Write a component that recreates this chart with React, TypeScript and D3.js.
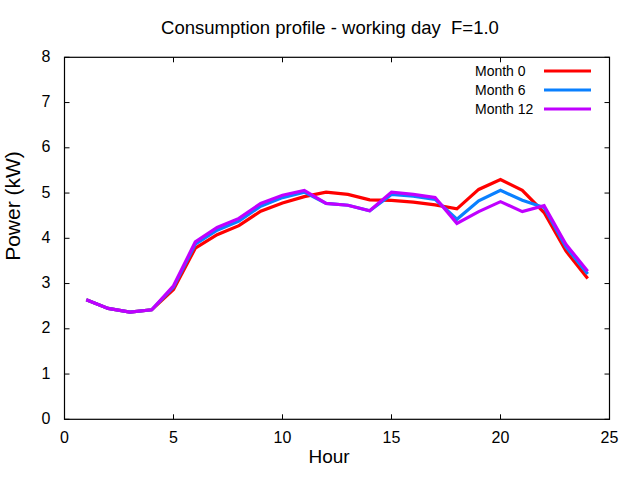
import * as d3 from 'd3';
import React, { useEffect } from 'react';

// hourly consumption profile
const hours = [1, 2, 3, 4, 5, 6, 7, 8, 9, 10, 11, 12, 13, 14, 15, 16, 17, 18, 19, 20, 21, 22, 23, 24];
const month0 = [2.64, 2.45, 2.37, 2.42, 2.87, 3.78, 4.08, 4.28, 4.6, 4.78, 4.92, 5.02, 4.97, 4.85, 4.84, 4.8, 4.74, 4.65, 5.08, 5.3, 5.06, 4.57, 3.72, 3.11];
const month6 = [2.64, 2.45, 2.37, 2.42, 2.92, 3.87, 4.18, 4.38, 4.71, 4.9, 5.02, 4.77, 4.73, 4.61, 4.97, 4.93, 4.86, 4.42, 4.83, 5.06, 4.84, 4.68, 3.81, 3.21];
const month12 = [2.64, 2.45, 2.37, 2.42, 2.95, 3.92, 4.24, 4.44, 4.77, 4.95, 5.06, 4.77, 4.73, 4.61, 5.02, 4.97, 4.9, 4.33, 4.59, 4.81, 4.59, 4.72, 3.87, 3.27];
const seriesNames = ['Month 0', 'Month 6', 'Month 12'];
const seriesColors = ['#ff0000', '#0a80ff', '#c000ff'];
const xTicks = [0, 5, 10, 15, 20, 25];
const yTicks = [0, 1, 2, 3, 4, 5, 6, 7, 8];

export default function App() {
  const ref = React.useRef<SVGSVGElement>(null);

  useEffect(() => {
    if (!ref.current) return;
    const svg = d3.select(ref.current);
    svg.selectAll('*').remove();

    const font = '"Liberation Sans", Arial, sans-serif';
    const left = 64.5, right = 609.5, top = 57.3, bottom = 419.3;

    const x = d3.scaleLinear().domain([0, 25]).range([left, right]);
    const y = d3.scaleLinear().domain([0, 8]).range([bottom, top]);

    svg.append('rect').attr('width', 640).attr('height', 480).attr('fill', '#fff');

    // gnuplot style mirrored inward ticks
    const tl = 5;
    const ticks = svg.append('g').attr('stroke', '#000').attr('stroke-width', 1);
    xTicks.forEach(t => {
      ticks.append('line').attr('x1', x(t)).attr('x2', x(t)).attr('y1', bottom).attr('y2', bottom - tl);
      ticks.append('line').attr('x1', x(t)).attr('x2', x(t)).attr('y1', top).attr('y2', top + tl);
    });
    yTicks.forEach(t => {
      ticks.append('line').attr('x1', left).attr('x2', left + tl).attr('y1', y(t)).attr('y2', y(t));
      ticks.append('line').attr('x1', right).attr('x2', right - tl).attr('y1', y(t)).attr('y2', y(t));
    });

    svg
      .append('g')
      .selectAll('text')
      .data(xTicks)
      .enter()
      .append('text')
      .attr('x', d => x(d))
      .attr('y', bottom + 18)
      .attr('dy', '0.35em')
      .attr('text-anchor', 'middle')
      .style('font', `16px ${font}`)
      .text(d => d);

    svg
      .append('g')
      .selectAll('text')
      .data(yTicks)
      .enter()
      .append('text')
      .attr('x', left - 14)
      .attr('y', d => y(d) - 1)
      .attr('dy', '0.35em')
      .attr('text-anchor', 'end')
      .style('font', `16px ${font}`)
      .text(d => d);

    const allSeries = [month0, month6, month12];
    const line = d3
      .line<number>()
      .x((d, i) => x(hours[i]))
      .y(d => y(d));

    allSeries.forEach((vals, i) => {
      svg
        .append('path')
        .datum(vals)
        .attr('fill', 'none')
        .attr('stroke', seriesColors[i])
        .attr('stroke-width', 3.2)
        .attr('stroke-linejoin', 'miter')
        .attr('d', line);
    });

    // frame
    svg
      .append('rect')
      .attr('x', left)
      .attr('y', top)
      .attr('width', right - left)
      .attr('height', bottom - top)
      .attr('fill', 'none')
      .attr('stroke', '#000')
      .attr('stroke-width', 1.2);

    // legend
    const legend = svg
      .selectAll('.legend')
      .data(seriesNames)
      .enter()
      .append('g')
      .attr('class', 'legend')
      .attr('transform', (d, i) => `translate(0,${71 + i * 19})`);
    legend
      .append('text')
      .attr('x', 475)
      .attr('y', 0)
      .attr('dy', '0.35em')
      .style('font', `14px ${font}`)
      .text(d => d);
    legend
      .append('line')
      .attr('x1', 544)
      .attr('x2', 591)
      .attr('y1', 0)
      .attr('y2', 0)
      .attr('stroke', (d, i) => seriesColors[i])
      .attr('stroke-width', 3.2);

    svg
      .append('text')
      .attr('x', 330)
      .attr('y', 28)
      .attr('dy', '0.35em')
      .attr('text-anchor', 'middle')
      .style('font', `18.5px ${font}`)
      .style('white-space', 'pre')
      .text('Consumption profile - working day  F=1.0');

    svg
      .append('text')
      .attr('x', 329)
      .attr('y', 456)
      .attr('dy', '0.35em')
      .attr('text-anchor', 'middle')
      .style('font', `19px ${font}`)
      .text('Hour');

    svg
      .append('text')
      .attr('transform', 'translate(13,206) rotate(-90)')
      .attr('dy', '0.35em')
      .attr('text-anchor', 'middle')
      .style('font', `21px ${font}`)
      .text('Power (kW)');
  }, []);

  return (
    <svg
      ref={ref}
      width={640}
      height={480}
      style={{ position: 'absolute', left: 0, top: 0, display: 'block' }}
    />
  );
}
